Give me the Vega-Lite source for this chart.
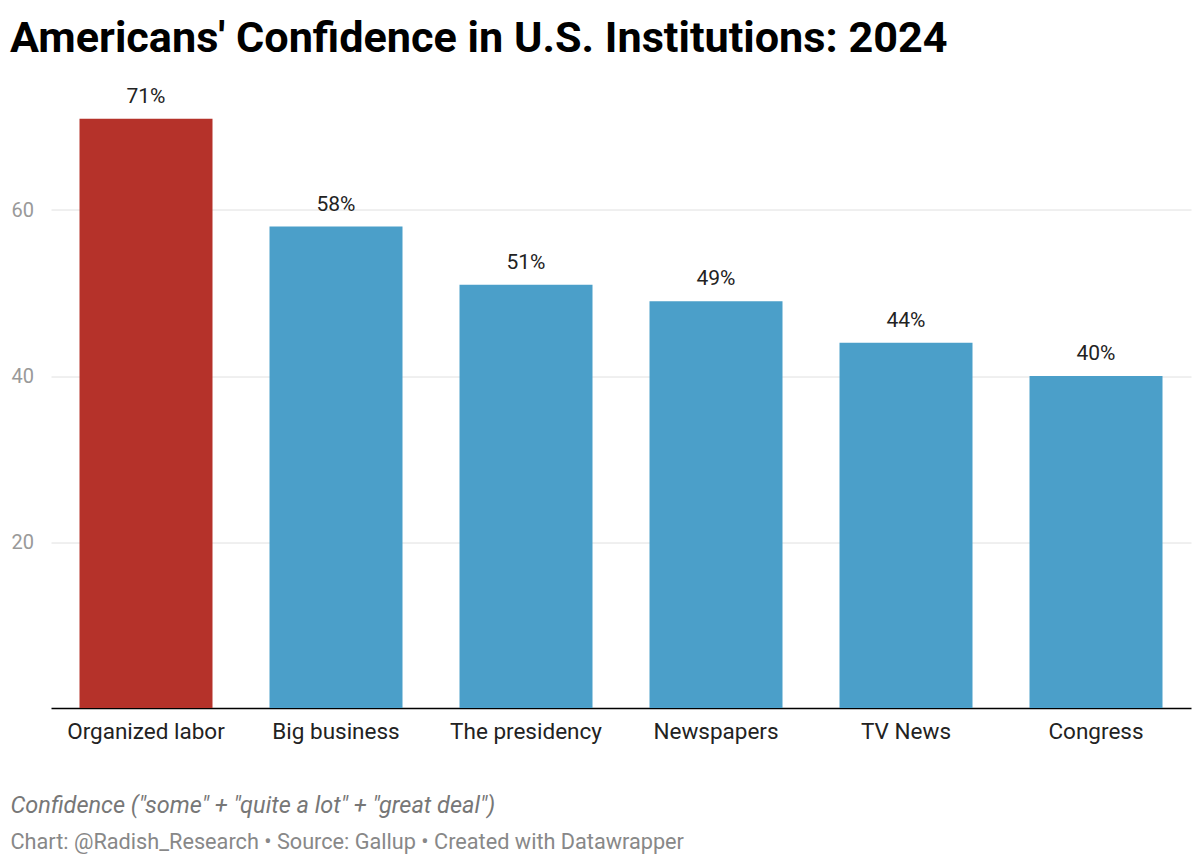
{
  "$schema": "https://vega.github.io/schema/vega-lite/v6.json",
  "width": 1140,
  "height": 622.5,
  "autosize": "none",
  "padding": {"left": 51, "top": 85.5, "right": 9, "bottom": 154},
  "background": "white",
  "config": {"view": {"stroke": null}},
  "title": {"text": "Americans' Confidence in U.S. Institutions: 2024", "anchor": "start", "frame": "group", "dx": -41, "offset": 24, "font": "Roboto", "fontSize": 43.2, "fontWeight": "bold", "color": "#000"},
  "data": {"values": [
    {"institution": "Organized labor", "value": 71, "label": "71%", "hl": "yes"},
    {"institution": "Big business", "value": 58, "label": "58%", "hl": "no"},
    {"institution": "The presidency", "value": 51, "label": "51%", "hl": "no"},
    {"institution": "Newspapers", "value": 49, "label": "49%", "hl": "no"},
    {"institution": "TV News", "value": 44, "label": "44%", "hl": "no"},
    {"institution": "Congress", "value": 40, "label": "40%", "hl": "no"}
  ]},
  "encoding": {
    "x": {"field": "institution", "type": "nominal", "sort": null,
      "scale": {"paddingInner": 0.3, "paddingOuter": 0.15},
      "axis": {"labelAngle": 0, "labelFont": "Roboto", "labelFontSize": 22.5, "labelColor": "#222", "labelPadding": 12, "ticks": false, "domainColor": "#000", "domainWidth": 1.5,
        "title": "Confidence (\"some\" + \"quite a lot\" + \"great deal\")", "titleFont": "Roboto", "titleFontSize": 23.5, "titleFontStyle": "italic", "titleFontWeight": "normal", "titleColor": "#777", "titleAnchor": "start", "titleAlign": "left", "titleX": -41, "titleY": 97, "titleBaseline": "middle"}},
    "y": {"field": "value", "type": "quantitative", "scale": {"domain": [0, 75]},
      "axis": {"values": [20, 40, 60], "grid": true, "gridColor": "#e0e0e0", "domain": false, "ticks": false, "labelFont": "Roboto", "labelFontSize": 20, "labelColor": "#999", "labelAlign": "left", "labelPadding": 40,
        "title": "Chart: @Radish_Research • Source: Gallup • Created with Datawrapper", "titleAngle": 0, "titleX": -41, "titleY": 755.5, "titleAlign": "left", "titleBaseline": "middle", "titleFont": "Roboto", "titleFontSize": 21.7, "titleFontWeight": "normal", "titleColor": "#888"}}
  },
  "layer": [
    {"mark": {"type": "bar"},
     "encoding": {"color": {"field": "hl", "type": "nominal", "scale": {"domain": ["yes", "no"], "range": ["#b5322a", "#4b9fc9"]}, "legend": null}}},
    {"mark": {"type": "text", "dy": -22, "font": "Roboto", "fontSize": 21, "color": "#222"},
     "encoding": {"text": {"field": "label", "type": "nominal"}}}
  ]
}
